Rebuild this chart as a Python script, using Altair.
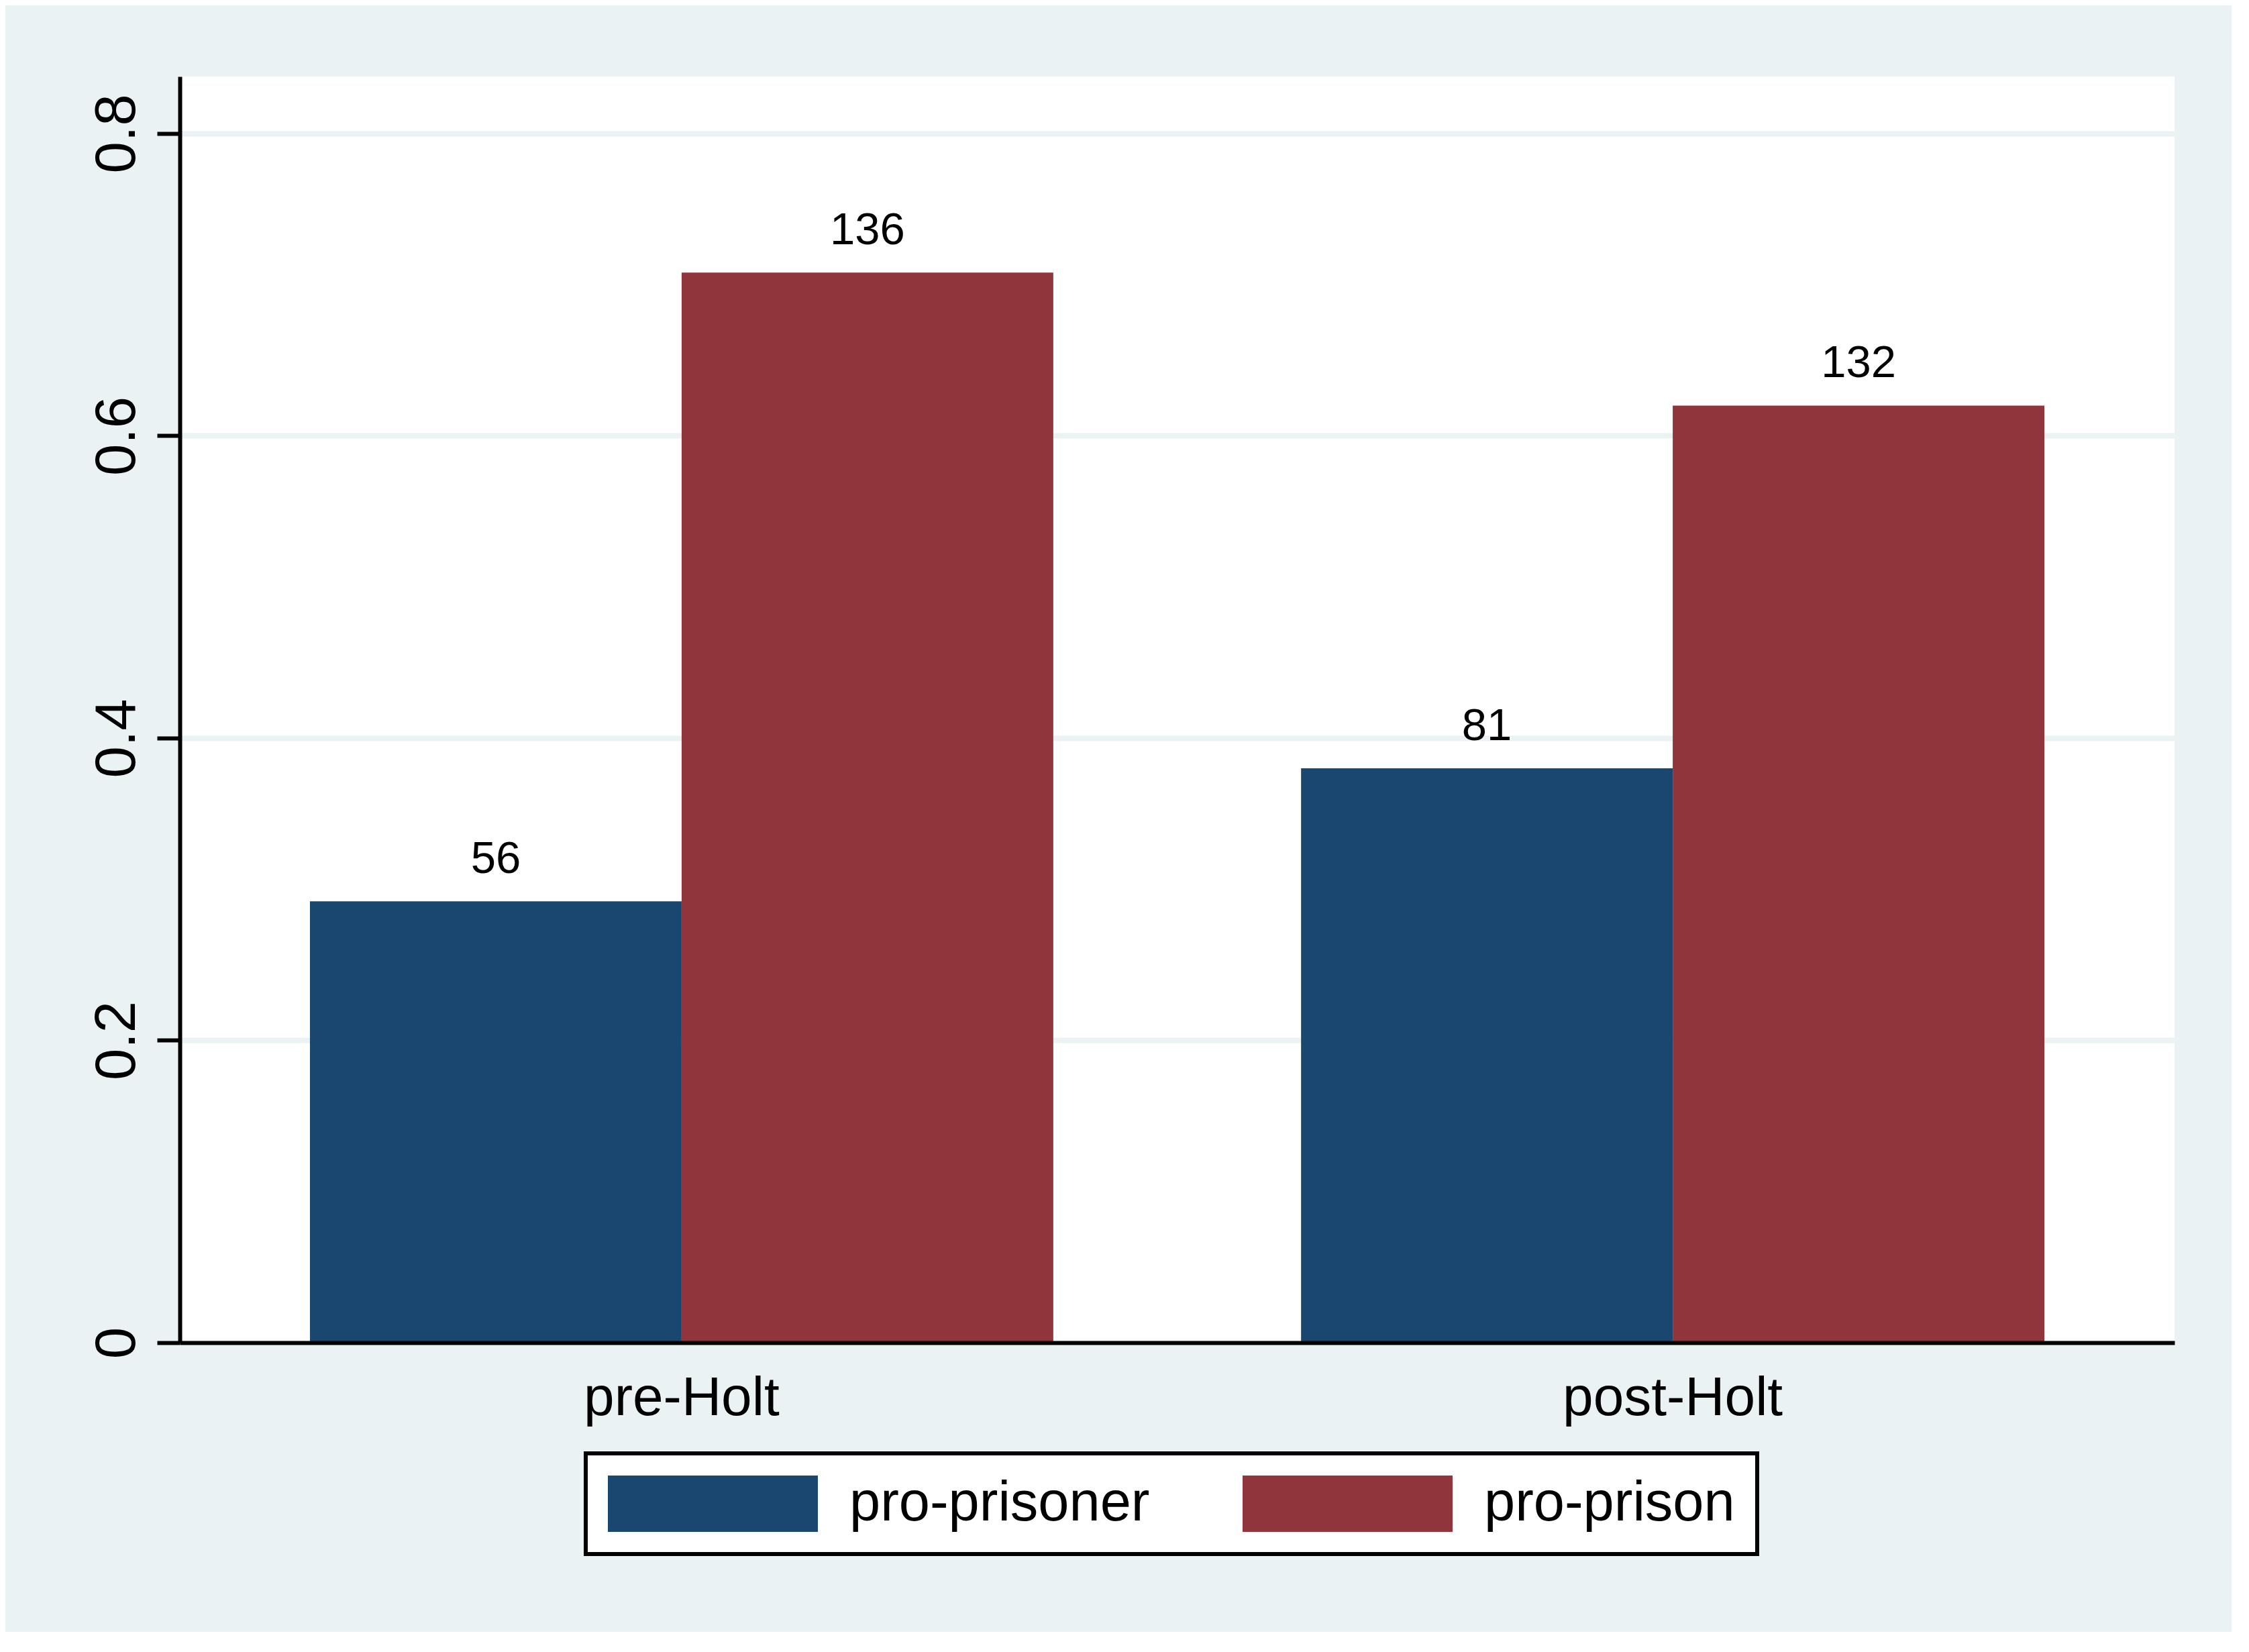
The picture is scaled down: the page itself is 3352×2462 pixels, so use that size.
import altair as alt
import pandas as pd

FONT = "Liberation Sans"

# data
periods = ["pre-Holt", "pre-Holt", "post-Holt", "post-Holt"]
stances = ["pro-prisoner", "pro-prison", "pro-prisoner", "pro-prison"]
shares = [0.292, 0.708, 0.380, 0.620]
counts = [56, 136, 81, 132]

period_order = ["pre-Holt", "post-Holt"]
stance_order = ["pro-prisoner", "pro-prison"]
stance_colors = ["#1A476F", "#90353B"]
y_ticks = [0, 0.2, 0.4, 0.6, 0.8]

df = pd.DataFrame({"period": periods, "stance": stances, "share": shares, "count": counts})

x_enc = alt.X(
    "period:N",
    sort=period_order,
    scale=alt.Scale(paddingInner=0.25, paddingOuter=0.1313),
    axis=alt.Axis(
        title=None, labelAngle=0, ticks=False, tickSize=0, grid=False,
        domainColor="black", domainWidth=6,
        labelFont=FONT, labelFontSize=82, labelColor="black", labelLimit=3000,
        labelPadding=107, labelBaseline="alphabetic", zindex=1,
    ),
)
xoff_enc = alt.XOffset("stance:N", sort=stance_order, scale=alt.Scale(paddingInner=0, paddingOuter=0))
y_enc = alt.Y(
    "share:Q",
    scale=alt.Scale(domain=[0, 0.8377], nice=False, zero=True),
    axis=alt.Axis(
        title=None, values=y_ticks, format=".1~f",
        labelAngle=270, labelAlign="center", labelBaseline="alphabetic",
        labelFont=FONT, labelFontSize=85, labelColor="black", labelPadding=34,
        tickSize=34, tickWidth=6, tickColor="black",
        domainColor="black", domainWidth=6,
        gridColor="#EAF2F3", gridWidth=8, gridOpacity=1,
    ),
)

bars = alt.Chart(df).mark_bar(opacity=1, strokeWidth=0).encode(
    x=x_enc,
    xOffset=xoff_enc,
    y=y_enc,
    color=alt.Color(
        "stance:N",
        scale=alt.Scale(domain=stance_order, range=stance_colors),
        legend=alt.Legend(
            title=None, orient="none", legendX=605, legendY=2052,
            direction="horizontal",
            symbolType="M-1,-1H6.452V1H-1Z", symbolSize=7056,
            symbolStrokeWidth=0, symbolOpacity=1,
            labelFont=FONT, labelFontSize=83, labelColor="black",
            labelOffset=276, columnPadding=138, padding=33,
            strokeColor="black", fillColor="white", labelLimit=2000,
        ),
    ),
)

labels = alt.Chart(df).mark_text(
    font=FONT, fontSize=67, dy=-42, baseline="alphabetic", align="center", color="black"
).encode(
    x=alt.X("period:N", sort=period_order),
    xOffset=alt.XOffset("stance:N", sort=stance_order),
    y=alt.Y("share:Q"),
    text=alt.Text("count:Q"),
)

chart = (
    alt.layer(bars, labels)
    .properties(
        width=2973,
        height=1887,
        background="#EAF2F3",
        autosize=alt.AutoSizeParams(type="none"),
        padding={"left": 260, "top": 106, "right": 85, "bottom": 431},
    )
    .configure_view(fill="white", strokeWidth=0)
    .configure_legend(strokeWidth=6)
)

chart.save("out.html", embed_options={"renderer": "svg", "actions": False})
